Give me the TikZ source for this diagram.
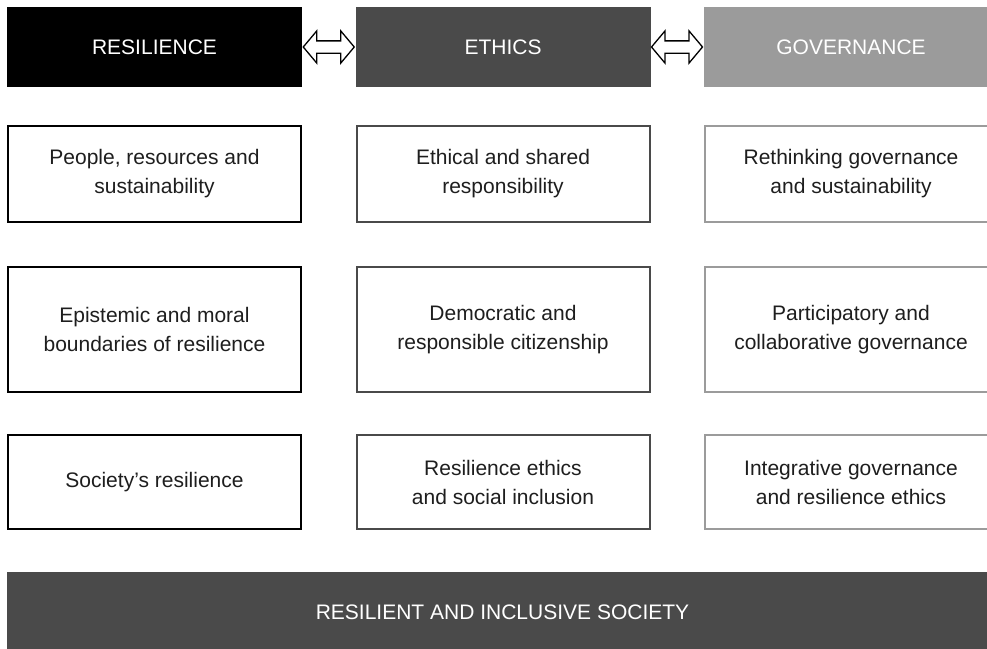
\documentclass[tikz,border=0pt]{standalone}
\usepackage{fontspec}
\setmainfont{Liberation Sans}
\usepackage{tikz}
\usetikzlibrary{calc, shapes.arrows}
\definecolor{dark}{RGB}{0, 0, 0}
\definecolor{mid}{RGB}{74, 74, 74}
\definecolor{light}{RGB}{155, 155, 155}
\definecolor{ink}{RGB}{30, 30, 30}

\begin{document}
\begin{tikzpicture}[x=1pt, y=-1pt, font=\fontsize{21}{29}\selectfont,
  head/.style={fill=#1, text=white, minimum width=295pt, minimum height=80pt, inner sep=0pt},
  topic/.style={draw=#1, line width=2pt, fill=white, text=ink, align=center,
    minimum width=293pt, inner sep=0pt},
  link/.style={double arrow, draw, fill=white, line width=1.3pt, inner xsep=0pt, inner ysep=5.5pt,
    minimum height=51pt, minimum width=31pt, double arrow head extend=10pt,
    double arrow tip angle=100}]
  \useasboundingbox (0, 0) rectangle (987, 648);

  % three pillars
  \node[head=dark] (res) at (154.5, 47) {RESILIENCE};
  \node[head=mid] (eth) at (503, 47) {ETHICS};
  \node[head=light] (gov) at (851, 47) {GOVERNANCE};

  \node[link] (reseth) at ($(res.east)!0.5!(eth.west)$) {};
  \node[link] (ethgov) at ($(eth.east)!0.5!(gov.west)$) {};

  % first row
  \node[topic=dark, minimum height=96pt] (r1) at (154.5, 174) {People, resources and\\sustainability};
  \node[topic=mid, minimum height=96pt] (e1) at (503, 174) {Ethical and shared\\responsibility};
  \node[topic=light, minimum height=96pt] (g1) at (851, 174) {Rethinking governance\\and sustainability};

  % second row
  \node[topic=dark, minimum height=125pt] (r2) at (154.5, 329.5) {Epistemic and moral\\boundaries of resilience};
  \node[topic=mid, minimum height=125pt] (e2) at (503, 329.5) {Democratic and\\responsible citizenship};
  \node[topic=light, minimum height=125pt] (g2) at (851, 329.5) {Participatory and\\collaborative governance};

  % third row
  \node[topic=dark, minimum height=94pt] (r3) at (154.5, 482) {Society’s resilience};
  \node[topic=mid, minimum height=94pt] (e3) at (503, 482) {Resilience ethics\\and social inclusion};
  \node[topic=light, minimum height=94pt] (g3) at (851, 482) {Integrative governance\\and resilience ethics};

  % the goal
  \node[head=mid, minimum width=991pt] (soc) at (502.5, 612) {RESILIENT AND INCLUSIVE SOCIETY};

\end{tikzpicture}
\end{document}
